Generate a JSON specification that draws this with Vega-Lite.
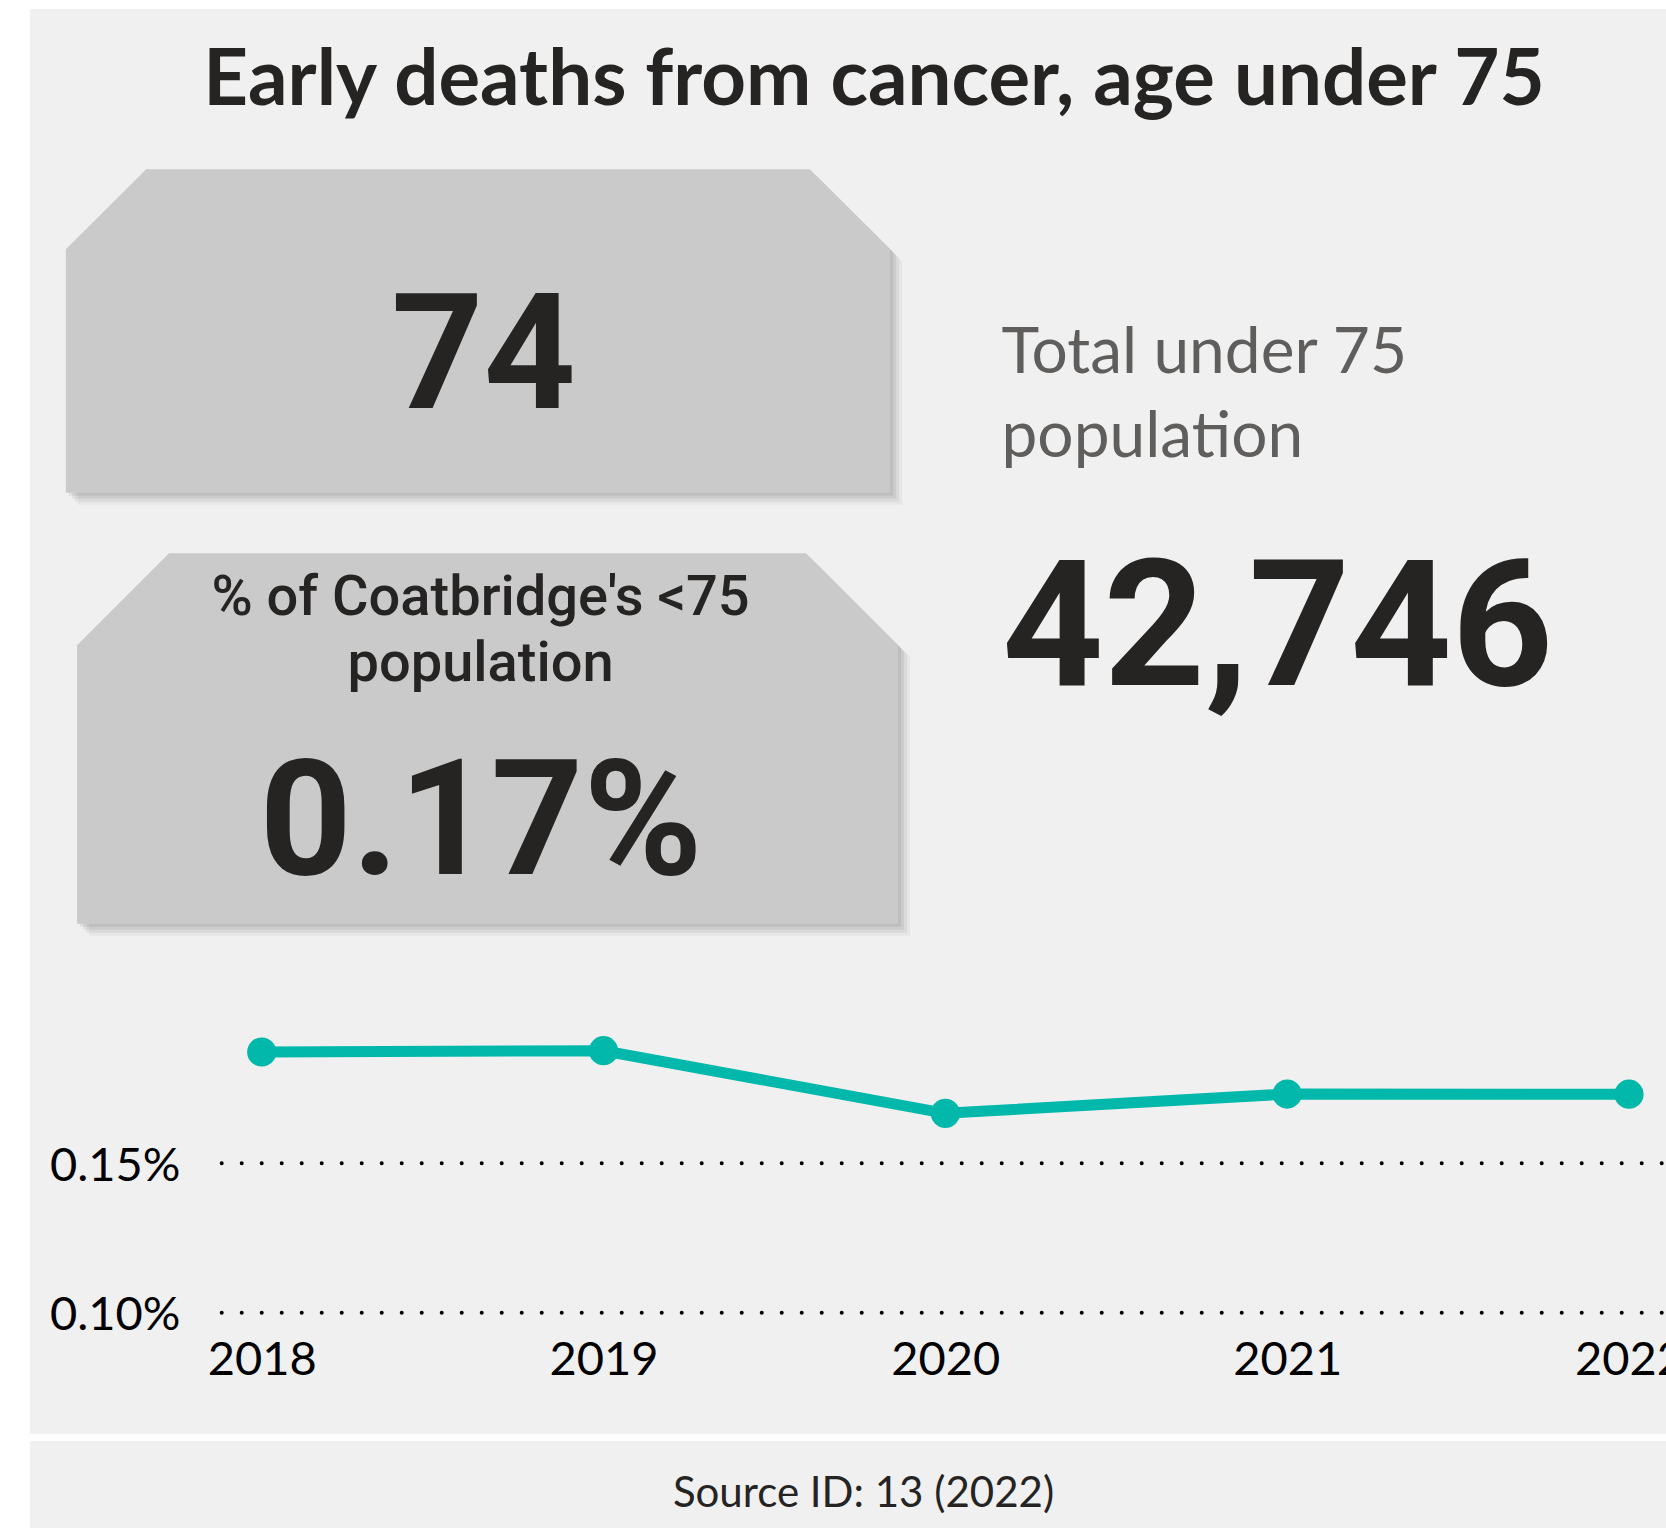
{
  "$schema": "https://vega.github.io/schema/vega-lite/v6.json",
  "background": "#ffffff",
  "padding": {"left": 30, "top": 9, "right": 0, "bottom": 0},
  "config": {"view": {"stroke": null, "fill": "#f0f0f0"}, "concat": {"spacing": 0}},
  "datasets": {
    "kpi": [{"deaths": 74, "population": 42746, "share": 0.0017312}],
    "trend": [
      {"year": 2018, "rate": 0.0018725},
      {"year": 2019, "rate": 0.0018768},
      {"year": 2020, "rate": 0.0016673},
      {"year": 2021, "rate": 0.0017319},
      {"year": 2022, "rate": 0.0017312}
    ]
  },
  "spacing": 7,
  "vconcat": [
    {
      "spacing": 0,
      "vconcat": [
        {
          "width": 1636, "height": 142,
          "view": {"fill": "#f0f0f0", "stroke": null},
          "data": {"name": "kpi"},
          "mark": {"type": "text", "text": "Early deaths from cancer, age under 75", "font": "Lato", "fontSize": 78, "fontWeight": "bold", "color": "#252423", "align": "center", "baseline": "alphabetic", "dx": 26, "dy": 25}
        },
        {
          "spacing": 0,
          "hconcat": [
            {
              "spacing": 0,
              "vconcat": [
                {
                  "width": 896, "height": 359,
                  "view": {"fill": "#f0f0f0", "stroke": null},
                  "data": {"name": "kpi"},
                  "layer": [
                    {"mark": {"type": "point", "shape": "M -1 -0.1982 L -0.805 -0.3923 L 0.805 -0.3923 L 1 -0.1982 L 1 0.3923 L -1 0.3923 Z", "size": 679470, "filled": true, "color": "#000000", "opacity": 0.07, "strokeWidth": 0, "xOffset": 3, "yOffset": 3.5}},
                    {"mark": {"type": "point", "shape": "M -1 -0.1982 L -0.805 -0.3923 L 0.805 -0.3923 L 1 -0.1982 L 1 0.3923 L -1 0.3923 Z", "size": 679470, "filled": true, "color": "#000000", "opacity": 0.06, "strokeWidth": 0, "xOffset": 6, "yOffset": 6.5}},
                    {"mark": {"type": "point", "shape": "M -1 -0.1982 L -0.805 -0.3923 L 0.805 -0.3923 L 1 -0.1982 L 1 0.3923 L -1 0.3923 Z", "size": 679470, "filled": true, "color": "#000000", "opacity": 0.05, "strokeWidth": 0, "xOffset": 9, "yOffset": 9.5}},
                    {"mark": {"type": "point", "shape": "M -1 -0.1982 L -0.805 -0.3923 L 0.805 -0.3923 L 1 -0.1982 L 1 0.3923 L -1 0.3923 Z", "size": 679470, "filled": true, "color": "#000000", "opacity": 0.04, "strokeWidth": 0, "xOffset": 12, "yOffset": 12.5}},
                    {"mark": {"type": "point", "shape": "M -1 -0.1982 L -0.805 -0.3923 L 0.805 -0.3923 L 1 -0.1982 L 1 0.3923 L -1 0.3923 Z", "size": 679470, "filled": true, "color": "#cacaca", "opacity": 1, "strokeWidth": 0, "yOffset": 0.5}},
                    {
                      "mark": {"type": "text", "font": "Roboto", "fontWeight": "bold", "fontSize": 161, "color": "#252423", "align": "center", "baseline": "alphabetic", "dx": 5.5, "dy": 77.5},
                      "encoding": {"text": {"field": "deaths", "type": "quantitative", "format": "d"}}
                    }
                  ]
                },
                {
                  "width": 896, "height": 457,
                  "view": {"fill": "#f0f0f0", "stroke": null},
                  "data": {"name": "kpi"},
                  "layer": [
                    {"mark": {"type": "point", "shape": "M -1 -0.2274 L -0.7759 -0.4515 L 0.7759 -0.4515 L 1 -0.2274 L 1 0.4515 L -1 0.4515 Z", "size": 674041, "filled": true, "color": "#000000", "opacity": 0.07, "strokeWidth": 0, "xOffset": 12.5, "yOffset": 3}},
                    {"mark": {"type": "point", "shape": "M -1 -0.2274 L -0.7759 -0.4515 L 0.7759 -0.4515 L 1 -0.2274 L 1 0.4515 L -1 0.4515 Z", "size": 674041, "filled": true, "color": "#000000", "opacity": 0.06, "strokeWidth": 0, "xOffset": 15.5, "yOffset": 6}},
                    {"mark": {"type": "point", "shape": "M -1 -0.2274 L -0.7759 -0.4515 L 0.7759 -0.4515 L 1 -0.2274 L 1 0.4515 L -1 0.4515 Z", "size": 674041, "filled": true, "color": "#000000", "opacity": 0.05, "strokeWidth": 0, "xOffset": 18.5, "yOffset": 9}},
                    {"mark": {"type": "point", "shape": "M -1 -0.2274 L -0.7759 -0.4515 L 0.7759 -0.4515 L 1 -0.2274 L 1 0.4515 L -1 0.4515 Z", "size": 674041, "filled": true, "color": "#000000", "opacity": 0.04, "strokeWidth": 0, "xOffset": 21.5, "yOffset": 12}},
                    {"mark": {"type": "point", "shape": "M -1 -0.2274 L -0.7759 -0.4515 L 0.7759 -0.4515 L 1 -0.2274 L 1 0.4515 L -1 0.4515 Z", "size": 674041, "filled": true, "color": "#cacaca", "opacity": 1, "strokeWidth": 0, "xOffset": 9.5}},
                    {"mark": {"type": "text", "text": ["% of Coatbridge's <75", "population"], "font": "Roboto", "fontWeight": 500, "fontSize": 56, "lineHeight": 66, "color": "#252423", "align": "center", "baseline": "alphabetic", "dx": 2.5, "dy": -123.5}},
                    {
                      "mark": {"type": "text", "font": "Roboto", "fontWeight": "bold", "fontSize": 161, "color": "#252423", "align": "center", "baseline": "alphabetic", "dx": 3, "dy": 135.5},
                      "encoding": {"text": {"field": "share", "type": "quantitative", "format": ".2%"}}
                    }
                  ]
                }
              ]
            },
            {
              "spacing": 0,
              "vconcat": [
                {
                  "width": 740, "height": 359,
                  "view": {"fill": "#f0f0f0", "stroke": null},
                  "data": {"name": "kpi"},
                  "mark": {"type": "text", "text": ["Total under 75", "population"], "font": "Lato", "fontSize": 64, "lineHeight": 84, "color": "#605E5C", "align": "left", "baseline": "alphabetic", "dx": -294.5, "dy": 42.5}
                },
                {
                  "width": 740, "height": 457,
                  "view": {"fill": "#f0f0f0", "stroke": null},
                  "data": {"name": "kpi"},
                  "mark": {"type": "text", "font": "Roboto", "fontWeight": "bold", "fontSize": 177, "color": "#252423", "align": "left", "baseline": "alphabetic", "dx": -294, "dy": -53.5},
                  "encoding": {"text": {"field": "population", "type": "quantitative", "format": ","}}
                }
              ]
            }
          ]
        },
        {
          "width": 1636, "height": 467,
          "view": {"fill": "#f0f0f0", "stroke": null},
          "layer": [
            {
              "data": {"name": "kpi"},
              "mark": {"type": "rule", "color": "#000000", "strokeWidth": 4, "strokeDash": [0, 20], "strokeCap": "round"},
              "encoding": {"x": {"datum": 2017.883}, "x2": {"datum": 2022.1083}, "y": {"datum": 0.0015}}
            },
            {
              "data": {"name": "kpi"},
              "mark": {"type": "rule", "color": "#000000", "strokeWidth": 4, "strokeDash": [0, 20], "strokeCap": "round"},
              "encoding": {"x": {"datum": 2017.883}, "x2": {"datum": 2022.1083}, "y": {"datum": 0.001}}
            },
            {
              "data": {"name": "trend"},
              "mark": {"type": "line", "color": "#01B8AA", "strokeWidth": 11},
              "encoding": {
                "x": {
                  "field": "year", "type": "quantitative",
                  "scale": {"domain": [2017.3221, 2022.1083], "nice": false, "zero": false},
                  "axis": {"values": [2018, 2019, 2020, 2021, 2022], "format": "d", "title": null, "domain": false, "ticks": false, "grid": false, "labelFont": "Lato", "labelFontSize": 47, "labelColor": "#000000", "labelPadding": 25, "offset": -121.3, "labelFlush": false, "labelOverlap": false}
                },
                "y": {
                  "field": "rate", "type": "quantitative",
                  "scale": {"domain": [0.000594, 0.002157], "nice": false, "zero": false},
                  "axis": {"values": [0.001, 0.0015], "format": ".2%", "title": null, "domain": false, "ticks": false, "grid": false, "labelFont": "Lato", "labelFontSize": 47, "labelColor": "#000000", "labelPadding": 40, "offset": -190, "labelOffset": 3}
                }
              }
            },
            {
              "data": {"name": "trend"},
              "mark": {"type": "circle", "size": 855, "color": "#01B8AA", "opacity": 1},
              "encoding": {
                "x": {"field": "year", "type": "quantitative"},
                "y": {"field": "rate", "type": "quantitative"}
              }
            }
          ]
        }
      ]
    },
    {
      "width": 1636, "height": 87,
      "view": {"fill": "#f0f0f0", "stroke": null},
      "data": {"name": "kpi"},
      "mark": {"type": "text", "text": "Source ID: 13 (2022)", "font": "Lato", "fontSize": 42, "color": "#252423", "align": "center", "baseline": "alphabetic", "dx": 15.5, "dy": 22.2}
    }
  ]
}
